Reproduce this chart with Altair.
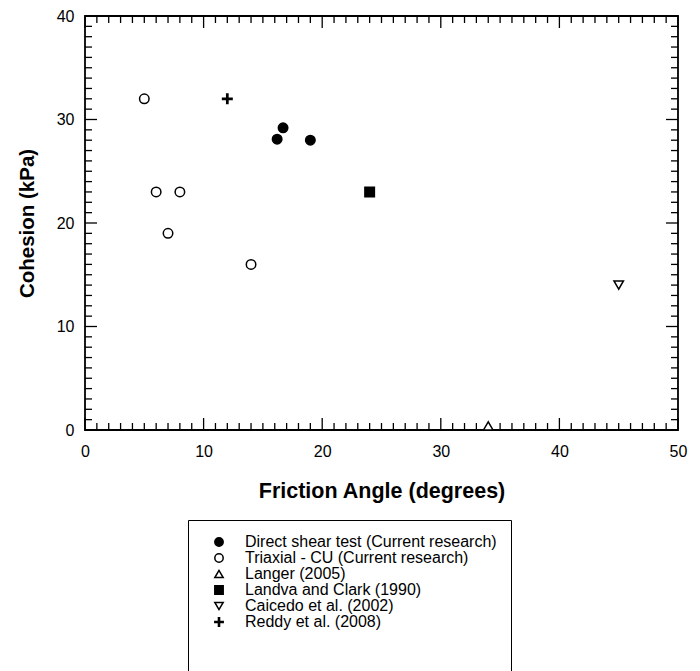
import altair as alt
import pandas as pd

# ---- data ----
series_names = [
    "Direct shear test (Current research)",
    "Triaxial - CU (Current research)",
    "Langer (2005)",
    "Landva and Clark (1990)",
    "Caicedo et al. (2002)",
    "Reddy et al. (2008)",
]
friction_angle = [16.2, 16.7, 19.0, 5.0, 6.0, 8.0, 7.0, 14.0, 34.0, 24.0, 45.0, 12.0]
cohesion = [28.1, 29.2, 28.0, 32.0, 23.0, 23.0, 19.0, 16.0, 0.4, 23.0, 14.0, 32.0]
series_of_point = [0, 0, 0, 1, 1, 1, 1, 1, 2, 3, 4, 5]

x_major_ticks = [0, 10, 20, 30, 40, 50]
y_major_ticks = [0, 10, 20, 30, 40]
x_minor_ticks = list(range(0, 51))
y_minor_ticks = list(range(0, 41))

# ---- styling ----
W, H = 593, 414
X_DOMAIN, Y_DOMAIN = [0, 50], [0, 40]
FONT = "Liberation Sans"
PLUS = "M-1,-0.13H1V0.13H-1Z M-0.13,-1H0.13V1H-0.13Z"
shape_range = ["circle", "circle", "triangle-up", "square", "triangle-down", PLUS]
fill_range = ["black", "white", "white", "black", "white", "black"]
stroke_range = ["black"] * 6
MINOR_PX, MAJOR_PX = 7, 12

df = pd.DataFrame({
    "friction": friction_angle,
    "cohesion": cohesion,
    "source": [series_names[i] for i in series_of_point],
})

xs = alt.Scale(domain=X_DOMAIN, nice=False, zero=False)
ys = alt.Scale(domain=Y_DOMAIN, nice=False, zero=False)

# inward tick marks on all four sides (lengths converted from px to data units)
ux = (X_DOMAIN[1] - X_DOMAIN[0]) / W
uy = (Y_DOMAIN[1] - Y_DOMAIN[0]) / H
rows = []
for t in x_minor_ticks:
    L = (MAJOR_PX if t in x_major_ticks else MINOR_PX) * uy
    rows.append({"tx": t, "tx2": t, "ty": Y_DOMAIN[0], "ty2": Y_DOMAIN[0] + L})
    rows.append({"tx": t, "tx2": t, "ty": Y_DOMAIN[1], "ty2": Y_DOMAIN[1] - L})
for t in y_minor_ticks:
    L = (MAJOR_PX if t in y_major_ticks else MINOR_PX) * ux
    rows.append({"tx": X_DOMAIN[0], "tx2": X_DOMAIN[0] + L, "ty": t, "ty2": t})
    rows.append({"tx": X_DOMAIN[1], "tx2": X_DOMAIN[1] - L, "ty": t, "ty2": t})
ticks_df = pd.DataFrame(rows)

x_axis = alt.Axis(
    values=x_major_ticks, title="Friction Angle (degrees)", ticks=False, tickSize=0,
    domain=False, grid=False, labelFontSize=16, labelFont=FONT, labelColor="black",
    labelPadding=13, labelFlush=False, titleFontSize=21.5, titleFont=FONT,
    titleFontWeight="bold", titleColor="black", titlePadding=21)
y_axis = alt.Axis(
    values=y_major_ticks, title="Cohesion (kPa)", ticks=False, tickSize=0,
    domain=False, grid=False, labelFontSize=16, labelFont=FONT, labelColor="black",
    labelPadding=11, labelFlush=False, titleFontSize=20.5, titleFont=FONT,
    titleFontWeight="bold", titleColor="black", titlePadding=19)

legend = alt.Legend(
    title=" ", titleOrient="bottom", titleFontSize=20, titlePadding=30,
    orient="none", legendX=103, legendY=504,
    strokeColor="black", fillColor="white", padding=14,
    symbolOffset=9, labelOffset=18, labelFontSize=16, labelFont=FONT,
    labelColor="black", labelLimit=500, rowPadding=0,
    symbolSize=70, symbolStrokeWidth=1.5, symbolStrokeColor="black",
)

ticks = alt.Chart(ticks_df).mark_rule(color="black", strokeWidth=1.3).encode(
    x=alt.X("tx:Q", scale=xs, axis=x_axis),
    x2="tx2:Q",
    y=alt.Y("ty:Q", scale=ys, axis=y_axis),
    y2="ty2:Q",
)

points = alt.Chart(df).mark_point(size=90, strokeWidth=1.5, opacity=1, filled=True).encode(
    x=alt.X("friction:Q", scale=xs, axis=x_axis),
    y=alt.Y("cohesion:Q", scale=ys, axis=y_axis),
    shape=alt.Shape("source:N", scale=alt.Scale(domain=series_names, range=shape_range), legend=legend),
    fill=alt.Fill("source:N", scale=alt.Scale(domain=series_names, range=fill_range), legend=legend),
    stroke=alt.Stroke("source:N", scale=alt.Scale(domain=series_names, range=stroke_range), legend=legend),
)

chart = alt.layer(ticks, points).properties(
    width=W, height=H,
    padding={"left": 9, "top": 0, "right": 2, "bottom": 0},
    background="white",
).configure_view(stroke="black", strokeWidth=1.8)

chart.save("out.html", embed_options={"renderer": "svg", "actions": False})
